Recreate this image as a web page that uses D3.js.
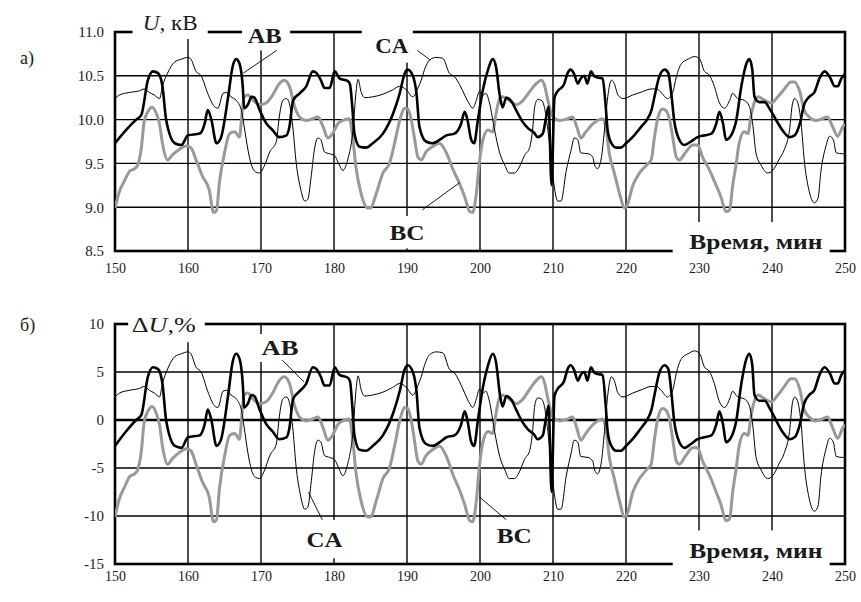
<!DOCTYPE html>
<html>
<head>
<meta charset="utf-8">
<script src="https://cdn.jsdelivr.net/npm/d3@7"></script>
<style>
  body { margin: 0; background: #fff; }
  svg { display: block; }
  text { font-family: "Liberation Serif", "Times New Roman", serif; fill: #1a1a1a; }
</style>
</head>
<body>
<svg id="chart" width="861" height="602"></svg>
<script>
// time axis, minutes
const timeTicks = [150, 160, 170, 180, 190, 200, 210, 220, 230, 240, 250];
const kvTicks = [8.5, 9.0, 9.5, 10.0, 10.5, 11.0];
const pctTicks = [-15, -10, -5, 0, 5, 10];
const nominalKv = 10;

// phase-to-phase voltages, [minute, kV]
const seriesAB = [
  [150, 9.73], [151.5, 9.88], [152.9, 10.0], [153.6, 10.05], [154.5, 10.45], [155.2, 10.55],
  [155.9, 10.53], [156.5, 10.38], [157.0, 10.0], [158.2, 9.73], [159.1, 9.71], [160.0, 9.82],
  [161.6, 9.84], [162.3, 9.96], [162.7, 10.11], [163.2, 10.0], [163.9, 9.73], [164.5, 9.79],
  [165.5, 10.26], [166.1, 10.6], [166.6, 10.69], [167.05, 10.64], [167.5, 10.38], [167.7, 10.13],
  [168.2, 10.17], [168.7, 10.26], [169.1, 10.25], [169.8, 10.11], [170.7, 9.96], [171.6, 9.88],
  [172.5, 9.80], [173.5, 9.82], [173.9, 9.92], [174.4, 10.22], [175.3, 10.30], [176.2, 10.38],
  [177.1, 10.55], [177.6, 10.53], [178.2, 10.45], [178.7, 10.36], [179.4, 10.36], [180.1, 10.55],
  [180.75, 10.47], [181.9, 10.44], [182.2, 10.4], [182.5, 10.15], [182.8, 9.84], [183.5, 9.69],
  [184.4, 9.68], [185.3, 9.73], [186.7, 9.84], [188.1, 10.07], [189.0, 10.30], [189.7, 10.53],
  [190.1, 10.57], [190.8, 10.5], [191.3, 10.3], [191.7, 9.92], [192.6, 9.75], [193.5, 9.73],
  [194.5, 9.77], [195.4, 9.82], [196.5, 9.84], [197.4, 9.95], [197.9, 10.09], [198.3, 9.99],
  [198.8, 9.77], [199.2, 9.73], [199.7, 9.99], [200.4, 10.34], [201.1, 10.57], [201.75, 10.69],
  [202.2, 10.6], [202.7, 10.28], [203.1, 10.14], [203.6, 10.25], [204.3, 10.21], [205.0, 10.1],
  [205.8, 9.98], [206.6, 9.9], [207.4, 9.85], [207.9, 9.8], [208.6, 9.84], [209.0, 10.0],
  [209.4, 10.15], [209.8, 9.25], [210.2, 10.25], [210.6, 10.32], [211.5, 10.4], [212.0, 10.53],
  [212.4, 10.57], [212.9, 10.52], [213.4, 10.41], [213.8, 10.47], [214.3, 10.5], [214.7, 10.41],
  [215.2, 10.55], [215.6, 10.5], [216.1, 10.48], [216.8, 10.47], [217.2, 10.17], [217.5, 9.87],
  [218.0, 9.73], [218.65, 9.68], [219.3, 9.68], [220.0, 9.73], [220.9, 9.80], [222.1, 9.92],
  [222.8, 9.99], [223.5, 10.11], [223.9, 10.26], [224.6, 10.5], [225.3, 10.57], [225.8, 10.53],
  [226.2, 10.3], [226.6, 9.99], [227.3, 9.77], [228.0, 9.71], [228.9, 9.75], [229.8, 9.80],
  [230.75, 9.82], [231.7, 9.84], [232.35, 9.95], [232.8, 10.09], [233.3, 9.95], [233.7, 9.77],
  [234.4, 9.82], [235.1, 9.99], [235.8, 10.38], [236.5, 10.64], [236.9, 10.69], [237.3, 10.57],
  [237.6, 10.26], [238.3, 10.2], [239.0, 10.2], [239.7, 10.12], [240.6, 9.99], [241.5, 9.87],
  [242.4, 9.80], [243.1, 9.82], [243.8, 9.95], [244.4, 10.17], [245.1, 10.26], [245.8, 10.31],
  [246.5, 10.47], [247.2, 10.55], [247.9, 10.49], [248.6, 10.38], [249.0, 10.38], [249.5, 10.47],
  [250, 10.52]
];

const seriesBC = [
  [150, 8.99], [150.6, 9.18], [151.3, 9.30], [152.0, 9.41], [152.7, 9.44], [153.1, 9.48],
  [153.6, 9.67], [154.0, 9.98], [154.5, 10.09], [155.1, 10.14], [155.6, 10.08], [156.1, 9.95],
  [156.5, 9.73], [157.2, 9.54], [157.9, 9.60], [158.8, 9.66], [159.75, 9.70], [160.4, 9.68],
  [161.1, 9.54], [162.0, 9.35], [162.9, 9.20], [163.5, 8.94], [163.9, 8.96], [164.3, 9.28],
  [165.0, 9.62], [165.7, 9.84], [166.4, 9.86], [167.05, 9.80], [167.4, 10.07], [167.7, 10.26],
  [168.2, 10.28], [168.9, 10.22], [169.8, 10.17], [170.7, 10.19], [171.6, 10.28], [172.5, 10.41],
  [173.2, 10.45], [173.9, 10.38], [174.6, 10.15], [175.3, 10.03], [176.2, 9.99], [177.1, 10.01],
  [177.8, 10.03], [178.5, 9.92], [179.15, 9.79], [179.8, 9.84], [180.5, 9.95], [181.2, 9.99],
  [182.1, 10.01], [182.6, 9.77], [183.0, 9.46], [183.7, 9.16], [184.6, 8.99], [185.0, 8.99],
  [185.8, 9.16], [186.7, 9.39], [187.6, 9.50], [188.3, 9.73], [189.0, 9.99], [189.7, 10.13],
  [190.1, 10.12], [190.6, 9.99], [191.0, 9.80], [191.5, 9.57], [191.95, 9.54], [192.6, 9.63],
  [193.5, 9.69], [194.45, 9.73], [195.4, 9.62], [196.3, 9.43], [197.2, 9.27], [197.9, 9.12],
  [198.6, 8.95], [199.0, 8.94], [199.5, 9.16], [199.9, 9.50], [200.4, 9.77], [201.1, 9.88],
  [201.75, 9.86], [202.2, 10.07], [202.7, 10.24], [203.1, 10.26], [204.0, 10.22], [205.0, 10.17],
  [205.9, 10.22], [206.8, 10.32], [207.7, 10.41], [208.4, 10.45], [208.8, 10.40], [209.3, 10.22],
  [210.0, 10.03], [210.9, 9.99], [212.0, 10.01], [212.7, 10.03], [213.25, 9.92], [213.8, 9.79],
  [214.5, 9.86], [215.45, 9.95], [216.1, 9.99], [216.8, 10.01], [217.3, 9.88], [217.7, 9.62],
  [218.4, 9.39], [219.1, 9.16], [219.8, 8.99], [220.2, 9.03], [220.9, 9.24], [221.85, 9.39],
  [222.8, 9.48], [223.45, 9.54], [223.9, 9.80], [224.4, 10.03], [225.0, 10.12], [225.5, 10.10],
  [226.0, 9.99], [226.4, 9.80], [226.9, 9.57], [227.3, 9.54], [228.2, 9.63], [229.15, 9.71],
  [229.8, 9.71], [230.5, 9.57], [231.4, 9.43], [232.3, 9.26], [233.0, 9.12], [233.7, 8.95],
  [234.2, 8.97], [234.6, 9.24], [235.1, 9.50], [235.5, 9.73], [236.2, 9.86], [236.7, 9.84],
  [237.1, 10.03], [237.6, 10.2], [238.05, 10.26], [239.0, 10.22], [239.9, 10.19], [240.8, 10.26],
  [241.7, 10.35], [242.6, 10.43], [243.1, 10.43], [243.8, 10.32], [244.4, 10.11], [245.1, 10.03],
  [246.0, 9.99], [246.9, 10.01], [247.6, 10.03], [248.3, 9.92], [249.0, 9.81], [249.7, 9.92],
  [250, 9.95]
];

const seriesCA = [
  [150, 10.24], [150.6, 10.28], [152.0, 10.31], [153.4, 10.33], [154.0, 10.35], [154.7, 10.31],
  [155.4, 10.28], [156.1, 10.24], [156.5, 10.38], [157.2, 10.53], [158.2, 10.66], [159.1, 10.69],
  [160.0, 10.71], [160.4, 10.69], [161.1, 10.55], [161.8, 10.5], [162.7, 10.3], [163.6, 10.15],
  [164.1, 10.13], [164.8, 10.3], [165.3, 10.31], [165.9, 10.26], [166.6, 10.22], [167.3, 10.11],
  [167.7, 9.92], [168.2, 9.66], [168.7, 9.48], [169.3, 9.40], [169.8, 9.39], [170.5, 9.48],
  [171.2, 9.63], [172.1, 9.75], [172.5, 10.03], [173.0, 10.22], [173.5, 10.24], [173.9, 10.18],
  [174.4, 9.88], [174.8, 9.52], [175.4, 9.22], [176.0, 9.07], [176.4, 9.09], [176.9, 9.37],
  [177.3, 9.65], [177.8, 9.79], [178.2, 9.77], [178.7, 9.63], [179.4, 9.61], [180.05, 9.59],
  [180.75, 9.48], [181.2, 9.42], [181.9, 9.55], [182.6, 9.88], [183.0, 10.30], [183.3, 10.46],
  [183.7, 10.32], [184.2, 10.25], [185.3, 10.26], [186.7, 10.29], [188.05, 10.34], [189.0, 10.38],
  [189.9, 10.34], [190.8, 10.26], [191.5, 10.36], [191.95, 10.45], [192.4, 10.57], [193.1, 10.68],
  [194.0, 10.71], [194.9, 10.70], [195.8, 10.53], [196.5, 10.49], [197.2, 10.40], [197.9, 10.28],
  [198.6, 10.17], [199.0, 10.13], [199.5, 10.22], [199.9, 10.32], [200.4, 10.28], [200.8, 10.3],
  [201.3, 10.19], [202.0, 9.88], [202.7, 9.62], [203.4, 9.48], [204.0, 9.39], [204.7, 9.39],
  [205.4, 9.46], [206.1, 9.59], [206.8, 9.68], [207.2, 9.88], [207.5, 10.15], [207.9, 10.23],
  [208.4, 10.22], [208.8, 10.15], [209.3, 9.88], [209.75, 9.55], [210.2, 9.22], [210.65, 9.07],
  [211.1, 9.07], [211.8, 9.41], [212.5, 9.66], [212.9, 9.79], [213.4, 9.77], [213.8, 9.62],
  [214.8, 9.61], [215.45, 9.57], [215.7, 9.48], [216.1, 9.44], [216.6, 9.55], [217.05, 9.88],
  [217.5, 10.26], [218.0, 10.45], [218.4, 10.41], [218.9, 10.28], [219.6, 10.24], [220.9, 10.28],
  [222.3, 10.32], [223.45, 10.35], [224.2, 10.35], [224.8, 10.31], [225.7, 10.24], [226.4, 10.31],
  [226.9, 10.49], [227.6, 10.64], [228.5, 10.69], [229.4, 10.72], [230.1, 10.69], [230.75, 10.55],
  [231.4, 10.51], [232.1, 10.38], [232.8, 10.19], [233.5, 10.13], [234.2, 10.22], [234.6, 10.3],
  [235.3, 10.24], [236.2, 10.22], [236.9, 10.15], [237.4, 9.92], [237.8, 9.62], [238.5, 9.48],
  [239.4, 9.39], [240.1, 9.42], [241.0, 9.55], [241.7, 9.66], [242.4, 9.88], [242.8, 10.18],
  [243.1, 10.24], [243.5, 10.2], [244.0, 9.95], [244.4, 9.55], [245.1, 9.18], [245.8, 9.05],
  [246.3, 9.10], [246.7, 9.41], [247.4, 9.70], [247.9, 9.81], [248.4, 9.77], [248.8, 9.62],
  [249.7, 9.61], [250, 9.61]
];

const svg = d3.select('#chart');
const x = d3.scaleLinear().domain([150, 250]).range([115, 845]);
const toPercent = (v) => ((v - nominalKv) / nominalKv) * 100;

/* One panel: frame, grid, tick labels, three phase curves and annotations
   @cfg holds the scale, ticks and labels of the panel */
function DrawPanel(cfg) {
  const y = d3.scaleLinear().domain(cfg.domain).range(cfg.range);
  const g = svg.append('g').attr('class', cfg.id);
  const [yBottom, yTop] = cfg.range;

  // grid
  g.selectAll('.vgrid')
    .data(timeTicks.slice(1, -1))
    .join('line')
    .attr('x1', (d) => x(d)).attr('x2', (d) => x(d))
    .attr('y1', yTop).attr('y2', yBottom)
    .attr('stroke', '#000').attr('stroke-width', 1.4);
  g.selectAll('.hgrid')
    .data(cfg.ticks.slice(1, -1))
    .join('line')
    .attr('x1', x(150)).attr('x2', x(250))
    .attr('y1', (d) => y(d)).attr('y2', (d) => y(d))
    .attr('stroke', '#000')
    .attr('stroke-width', (d) => (d === cfg.strongLine ? 2.4 : 1.4));

  // frame
  g.append('rect')
    .attr('x', x(150)).attr('y', yTop)
    .attr('width', x(250) - x(150)).attr('height', yBottom - yTop)
    .attr('fill', 'none').attr('stroke', '#000').attr('stroke-width', 2.6);

  // tick labels
  const yAxis = d3.axisLeft(y).tickValues(cfg.ticks).tickSize(0).tickPadding(11)
    .tickFormat(cfg.format);
  g.append('g').attr('transform', `translate(${x(150)},0)`).call(yAxis)
    .call((a) => a.select('.domain').remove())
    .selectAll('text')
    .style('font-size', '15px')
    .attr('fill', '#1a1a1a');
  const xAxis = d3.axisBottom(x).tickValues(timeTicks).tickSize(0).tickPadding(cfg.xPad)
    .tickFormat(d3.format('d'));
  g.append('g').attr('transform', `translate(0,${yBottom})`).call(xAxis)
    .call((a) => a.select('.domain').remove())
    .selectAll('text')
    .style('font-size', '14px')
    .attr('fill', '#1a1a1a');

  // white boxes that break the frame and grid under the labels
  g.selectAll('.label-box')
    .data(cfg.labels)
    .join('rect')
    .attr('x', (d) => x(d.box[0]))
    .attr('y', (d) => y(d.box[3]))
    .attr('width', (d) => x(d.box[1]) - x(d.box[0]))
    .attr('height', (d) => y(d.box[2]) - y(d.box[3]))
    .attr('fill', '#fff');

  // curves
  g.append('clipPath').attr('id', `clip-${cfg.id}`)
    .append('rect')
    .attr('x', x(150)).attr('y', yTop)
    .attr('width', x(250) - x(150)).attr('height', yBottom - yTop);
  const line = d3.line()
    .x((d) => x(d[0]))
    .y((d) => y(cfg.value(d[1])))
    .curve(d3.curveMonotoneX);
  const phases = [
    { data: seriesBC, color: '#999', width: 3 },
    { data: seriesAB, color: '#000', width: 2.6 },
    { data: seriesCA, color: '#000', width: 1 },
  ];
  g.append('g').attr('clip-path', `url(#clip-${cfg.id})`)
    .selectAll('path')
    .data(phases)
    .join('path')
    .attr('d', (d) => line(d.data))
    .attr('fill', 'none')
    .attr('stroke', (d) => d.color)
    .attr('stroke-width', (d) => d.width)
    .attr('stroke-linejoin', 'round');

  // leaders
  g.selectAll('.leader')
    .data(cfg.labels.filter((d) => d.leader))
    .join('line')
    .attr('x1', (d) => x(d.leader[0])).attr('y1', (d) => y(d.leader[1]))
    .attr('x2', (d) => x(d.leader[2])).attr('y2', (d) => y(d.leader[3]))
    .attr('stroke', '#000').attr('stroke-width', 0.9);

  // label texts
  cfg.labels.forEach((d) => {
    const t = g.append('text')
      .attr('x', x(d.at[0])).attr('y', y(d.at[1]))
      .attr('text-anchor', d.anchor || 'middle')
      .style('font-size', `${d.size}px`)
      .style('font-weight', d.bold ? 'bold' : 'normal');
    if (d.span) t.attr('textLength', d.span).attr('lengthAdjust', 'spacingAndGlyphs');
    d.parts.forEach((p) => {
      t.append('tspan').text(p.text).style('font-style', p.italic ? 'italic' : 'normal');
    });
  });

  svg.append('text')
    .attr('x', 20).attr('y', cfg.letterY)
    .style('font-size', '18px')
    .text(cfg.letter);
}

DrawPanel({
  id: 'kv',
  domain: [8.5, 11.0],
  range: [251, 32],
  ticks: kvTicks,
  format: d3.format('.1f'),
  xPad: 12,
  value: (v) => v,
  letter: 'а)',
  letterY: 64,
  labels: [
    { parts: [{ text: 'U', italic: true }, { text: ', кВ' }], size: 22, anchor: 'start', span: 55,
      at: [153.8, 11.02], box: [152.4, 162.7, 10.92, 11.2] },
    { parts: [{ text: 'AB' }], size: 22, bold: true, span: 34,
      at: [170.5, 10.87], box: [167.4, 174.0, 10.79, 11.11], leader: [172.15, 10.79, 167.57, 10.53] },
    { parts: [{ text: 'CA' }], size: 22, bold: true, span: 33,
      at: [187.9, 10.76], box: [183.8, 190.8, 10.65, 11.11], leader: [191.4, 10.79, 193.2, 10.68] },
    { parts: [{ text: 'BC' }], size: 22, bold: true, span: 35,
      at: [190.0, 8.63], box: [187.3, 192.8, 8.53, 8.9], leader: [192.1, 8.97, 197.2, 9.28] },
    { parts: [{ text: 'Время, мин' }], size: 20, bold: true, anchor: 'end', span: 133,
      at: [246.9, 8.525], box: [226.4, 247.9, 8.44, 8.83] },
  ],
});

DrawPanel({
  id: 'pct',
  domain: [-15, 10],
  range: [564, 324],
  ticks: pctTicks,
  format: (d) => String(d),
  strongLine: 0,
  xPad: 7,
  value: toPercent,
  letter: 'б)',
  letterY: 331,
  labels: [
    { parts: [{ text: 'Δ' }, { text: 'U', italic: true }, { text: ',%' }], size: 22, anchor: 'start', span: 64,
      at: [152.3, 9.17], box: [151.8, 162.3, 8.1, 11.25] },
    { parts: [{ text: 'AB' }], size: 22, bold: true, span: 37,
      at: [172.6, 6.77], box: [169.6, 176.0, 6.04, 8.96], leader: [172.9, 6.25, 175.9, 3.96] },
    { parts: [{ text: 'CA' }], size: 22, bold: true, span: 36,
      at: [178.7, -13.2], box: [175.7, 181.7, -14.4, -10.4], leader: [178.4, -10.4, 176.5, -7.5] },
    { parts: [{ text: 'BC' }], size: 22, bold: true, span: 35,
      at: [204.7, -12.8], box: [202.0, 207.3, -14.4, -10.4], leader: [203.6, -10.4, 199.9, -8.0] },
    { parts: [{ text: 'Время, мин' }], size: 20, bold: true, anchor: 'end', span: 133,
      at: [246.9, -14.4], box: [226.4, 247.9, -15.4, -11.5] },
  ],
});
</script>
</body>
</html>
